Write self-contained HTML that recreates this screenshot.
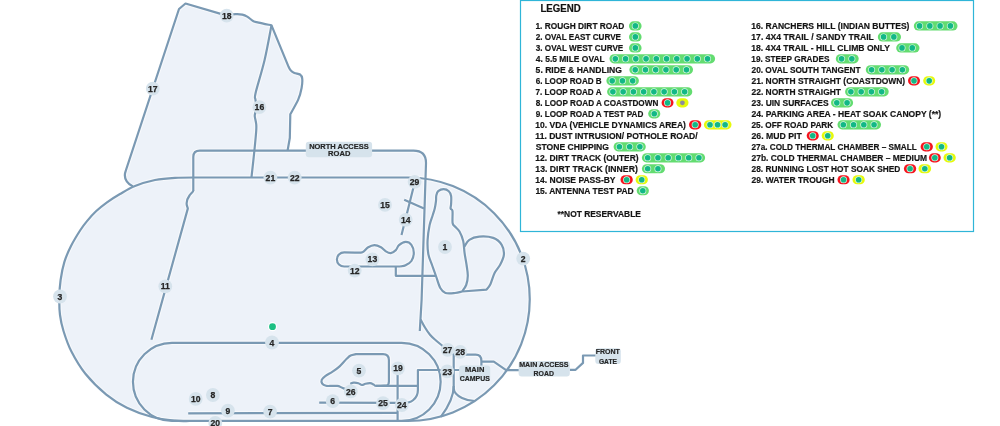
<!DOCTYPE html>
<html><head><meta charset="utf-8"><style>
html,body{margin:0;padding:0;background:#fff;width:1000px;height:426px;overflow:hidden;font-family:"Liberation Sans",sans-serif;}
.wrap{position:relative;width:1000px;height:426px;}
svg{will-change:transform;}
</style></head><body><div class="wrap">
<svg width="1000" height="426" viewBox="0 0 1000 426" style="position:absolute;left:0;top:0">
<g fill="#edf2f9" stroke="none"><path d="M408,177.5 L200,177.5 C195.83,177.55 182.50,177.38 175.00,177.80 C167.50,178.22 161.67,178.63 155.00,180.00 C148.33,181.37 140.83,183.67 135.00,186.00 C129.17,188.33 124.67,191.28 120.00,194.00 C115.33,196.72 111.00,199.42 107.00,202.30 C103.00,205.18 99.33,208.17 96.00,211.30 C92.67,214.43 89.60,217.98 87.00,221.10 C84.40,224.22 83.07,225.85 80.40,230.00 C77.73,234.15 73.67,240.68 71.00,246.00 C68.33,251.32 66.13,256.23 64.40,261.90 C62.67,267.57 61.45,273.98 60.60,280.00 C59.75,286.02 59.40,292.17 59.30,298.00 C59.20,303.83 59.30,309.50 60.00,315.00 C60.70,320.50 61.62,324.95 63.50,331.00 C65.38,337.05 67.65,344.17 71.30,351.30 C74.95,358.43 79.57,366.58 85.40,373.80 C91.23,381.02 99.38,388.95 106.30,394.60 C113.22,400.25 119.25,403.97 126.90,407.70 C134.55,411.43 144.18,414.83 152.20,417.00 C160.22,419.17 168.70,420.03 175.00,420.70 C181.30,421.37 185.83,420.95 190.00,421.00 C194.17,421.05 198.33,421.00 200.00,421.00 L408,421 A121.75,121.75 0 0 0 408,177.5 Z"/><path d="M133,186.5 C128.5,184.5 123.5,179.5 125.2,172.6 L126,170 L179,9 L185.5,3.5 L226.7,15.6 C228.20,15.35 233.10,14.27 235.70,14.10 C238.30,13.93 240.38,14.18 242.30,14.60 C244.22,15.02 245.33,15.50 247.20,16.60 C249.07,17.70 251.58,20.20 253.50,21.20 C255.42,22.20 255.70,21.92 258.70,22.60 C261.70,23.28 269.37,24.85 271.50,25.30 L288.6,66.8 C288.93,67.37 289.63,69.18 290.60,70.20 C291.57,71.22 292.83,72.18 294.40,72.90 C295.97,73.62 298.70,73.57 300.00,74.50 C301.30,75.43 301.93,76.25 302.20,78.50 C302.47,80.75 302.25,84.52 301.60,88.00 C300.95,91.48 300.18,95.03 298.30,99.40 C296.42,103.77 291.63,111.73 290.30,114.20 L289.8,138 L287.6,150.5 L193.3,150.5 L193.3,200 L120,200 Z"/><path d="M193.3,200 L193.3,157 Q193.3,150.5 199.8,150.5 L413.5,150.5 Q425.5,150.5 425.4,163 L424,200 Z"/></g>
<g fill="none" stroke="#ffffff" stroke-opacity="0.55" stroke-width="4.4" stroke-linejoin="round" stroke-linecap="butt">
<path d="M408,177.5 L200,177.5 C195.83,177.55 182.50,177.38 175.00,177.80 C167.50,178.22 161.67,178.63 155.00,180.00 C148.33,181.37 140.83,183.67 135.00,186.00 C129.17,188.33 124.67,191.28 120.00,194.00 C115.33,196.72 111.00,199.42 107.00,202.30 C103.00,205.18 99.33,208.17 96.00,211.30 C92.67,214.43 89.60,217.98 87.00,221.10 C84.40,224.22 83.07,225.85 80.40,230.00 C77.73,234.15 73.67,240.68 71.00,246.00 C68.33,251.32 66.13,256.23 64.40,261.90 C62.67,267.57 61.45,273.98 60.60,280.00 C59.75,286.02 59.40,292.17 59.30,298.00 C59.20,303.83 59.30,309.50 60.00,315.00 C60.70,320.50 61.62,324.95 63.50,331.00 C65.38,337.05 67.65,344.17 71.30,351.30 C74.95,358.43 79.57,366.58 85.40,373.80 C91.23,381.02 99.38,388.95 106.30,394.60 C113.22,400.25 119.25,403.97 126.90,407.70 C134.55,411.43 144.18,414.83 152.20,417.00 C160.22,419.17 168.70,420.03 175.00,420.70 C181.30,421.37 185.83,420.95 190.00,421.00 C194.17,421.05 198.33,421.00 200.00,421.00 L408,421 A121.75,121.75 0 0 0 408,177.5 Z"/>
<path d="M133,186.5 C128.5,184.5 123.5,179.5 125.2,172.6 L126,170 L179,9 L185.5,3.5 L226.7,15.6 C228.20,15.35 233.10,14.27 235.70,14.10 C238.30,13.93 240.38,14.18 242.30,14.60 C244.22,15.02 245.33,15.50 247.20,16.60 C249.07,17.70 251.58,20.20 253.50,21.20 C255.42,22.20 255.70,21.92 258.70,22.60 C261.70,23.28 269.37,24.85 271.50,25.30 L288.6,66.8 C288.93,67.37 289.63,69.18 290.60,70.20 C291.57,71.22 292.83,72.18 294.40,72.90 C295.97,73.62 298.70,73.57 300.00,74.50 C301.30,75.43 301.93,76.25 302.20,78.50 C302.47,80.75 302.25,84.52 301.60,88.00 C300.95,91.48 300.18,95.03 298.30,99.40 C296.42,103.77 291.63,111.73 290.30,114.20 L289.8,138 L287.6,150.5"/>
<path d="M193.3,191 L193.3,157 Q193.3,150.7 199.8,150.7 L413.5,150.7 Q426,150.7 426,163 L421.6,300 L419.8,331"/>
<path d="M271.50,25.30 C270.35,31.08 267.25,48.73 264.60,60.00 C261.95,71.27 257.13,86.33 255.60,92.90 C254.07,99.47 255.25,97.22 255.40,99.40 C255.55,101.58 256.53,103.73 256.50,106.00 C256.47,108.27 255.48,111.25 255.20,113.00 C254.92,114.75 254.63,114.67 254.80,116.50 C254.97,118.33 255.97,121.58 256.20,124.00 C256.43,126.42 256.50,126.58 256.20,131.00 C255.90,135.42 255.18,142.80 254.40,150.50 C253.62,158.20 251.98,172.75 251.50,177.20"/>
<path d="M193.3,190.5 C193.3,192 191,193.2 189.5,195.5 C187,199 186.4,203 186.8,205 C187,206.6 187.8,207.8 187.8,208.6 L151.4,339.8"/>
<path d="M414.6,183 L401.5,235"/>
<path d="M404.2,199.7 L424,208.6"/>
<path d="M400.7,266.4 L344.2,266.5 C340,266.5 336.9,263.3 336.9,259.4 C336.9,255.5 340,252.4 344.2,252.4 L354.7,252.6 C356.00,252.53 360.32,253.05 362.50,252.20 C364.68,251.35 365.82,248.68 367.80,247.50 C369.78,246.32 372.20,245.13 374.40,245.10 C376.60,245.07 379.08,246.25 381.00,247.30 C382.92,248.35 384.27,250.43 385.90,251.40 C387.53,252.37 389.15,253.32 390.80,253.10 C392.45,252.88 394.43,251.42 395.80,250.10 C397.17,248.78 397.37,246.57 399.00,245.20 C400.63,243.83 403.53,241.97 405.60,241.90 C407.67,241.83 410.03,242.98 411.40,244.80 C412.77,246.62 413.80,250.10 413.80,252.80 C413.80,255.50 412.77,258.93 411.40,261.00 C410.03,263.07 407.38,264.30 405.60,265.20 C403.82,266.10 401.52,266.20 400.70,266.40"/>
<path d="M395.8,266.5 L395.8,275.8 L435.5,275.8"/>
<path d="M462.00,291.50 C462.70,290.42 465.23,287.62 466.20,285.00 C467.17,282.38 467.75,279.22 467.80,275.80 C467.85,272.38 467.03,268.27 466.50,264.50 C465.97,260.73 465.15,257.12 464.60,253.20 C464.05,249.28 464.05,244.62 463.20,241.00 C462.35,237.38 460.87,233.92 459.50,231.50 C458.13,229.08 456.15,227.92 455.00,226.50 C453.85,225.08 453.02,225.58 452.60,223.00 C452.18,220.42 452.83,213.42 452.50,211.00 C452.17,208.58 450.83,209.67 450.60,208.50 C450.37,207.33 451.02,206.08 451.10,204.00 C451.18,201.92 451.48,198.13 451.10,196.00 C450.72,193.87 450.05,192.33 448.80,191.20 C447.55,190.07 445.37,189.20 443.60,189.20 C441.83,189.20 439.42,190.15 438.20,191.20 C436.98,192.25 436.67,193.87 436.30,195.50 C435.93,197.13 436.25,198.88 436.00,201.00 C435.75,203.12 435.35,205.83 434.80,208.20 C434.25,210.57 433.57,212.38 432.70,215.20 C431.83,218.02 430.45,220.97 429.60,225.10 C428.75,229.23 427.82,235.18 427.60,240.00 C427.38,244.82 427.53,249.75 428.30,254.00 C429.07,258.25 430.87,261.67 432.20,265.50 C433.53,269.33 434.95,273.25 436.30,277.00 C437.65,280.75 438.77,285.33 440.30,288.00 C441.83,290.67 443.05,292.17 445.50,293.00 C447.95,293.83 452.25,293.25 455.00,293.00 C457.75,292.75 460.83,291.75 462.00,291.50"/>
<path d="M464.40,246.50 C465.22,245.38 466.83,241.45 469.30,239.80 C471.77,238.15 475.22,236.92 479.20,236.60 C483.18,236.28 489.45,236.53 493.20,237.90 C496.95,239.27 499.92,242.02 501.70,244.80 C503.48,247.58 504.13,251.32 503.90,254.60 C503.67,257.88 501.85,261.43 500.30,264.50 C498.75,267.57 496.25,269.72 494.60,273.00 C492.95,276.28 491.75,281.43 490.40,284.20 C489.05,286.97 487.15,288.70 486.50,289.60 L462,291.5"/>
<path d="M172,342.8 L401.6,342.8 A39.05,39.05 0 0 1 401.6,420.9 L172,420.9 A39.05,39.05 0 0 1 172,342.8 Z"/>
<path d="M188.2,413.3 L397.6,412.8"/>
<path d="M319.2,402.6 L401.8,402.9 C406,403.2 409.8,403 413.3,400 C417,397 417.9,394 417.9,390 L417.9,370 L460,370"/>
<path d="M376,385.8 L417.9,385.8"/>
<path d="M397.6,368 L397.6,421"/>
<path d="M386.6,385.5 Q388.9,385 388.9,381.5 L388.9,360 Q388.9,354.1 383,354.1 L356,354.1 C355.10,354.35 352.15,354.82 350.60,355.60 C349.05,356.38 348.53,357.00 346.70,358.80 C344.87,360.60 341.95,364.25 339.60,366.40 C337.25,368.55 334.93,370.13 332.60,371.70 C330.27,373.27 327.40,374.48 325.60,375.80 C323.80,377.12 322.37,378.30 321.80,379.60 C321.23,380.90 321.50,382.57 322.20,383.60 C322.90,384.63 324.53,385.42 326.00,385.80 C327.47,386.18 330.17,385.88 331.00,385.90 L337.3,385.9 C339.5,386 341,387.5 344.3,388.6 L350.8,391.4"/>
<path d="M350.20,383.80 C350.78,383.60 352.33,382.70 353.70,382.60 C355.07,382.50 357.03,382.80 358.40,383.20 C359.77,383.60 360.73,384.90 361.90,385.00 C363.07,385.10 364.03,384.10 365.40,383.80 C366.77,383.50 368.73,383.10 370.10,383.20 C371.47,383.30 372.62,383.97 373.60,384.40 C374.58,384.83 373.83,385.60 376.00,385.80 C378.17,386.00 384.83,385.63 386.60,385.60"/>
<path d="M420.60,319.40 C421.33,320.75 423.43,324.93 425.00,327.50 C426.57,330.07 428.17,332.63 430.00,334.80 C431.83,336.97 433.97,338.70 436.00,340.50 C438.03,342.30 440.27,344.05 442.20,345.60 C444.13,347.15 446.70,349.10 447.60,349.80 L453.7,354.5 L453.7,388 C453.7,392 457,395.5 462,398 C466,400 471,401 475,401"/>
<path d="M453.7,386 C453.7,396 449,406 440.8,416.8"/>
<path d="M460.2,354.7 L475.6,354.7 C479.5,354.7 481.4,357.5 481.4,361 L481.4,366 M481.4,361.7 L493.8,361.7 L506.1,370.2 L520,370.2"/>
<path d="M569.8,369.8 L575.6,369.8 L583,362.9 L583,355.5 L596,355.5"/>
</g>
<g fill="none" stroke="#7a99b3" stroke-width="2.2" stroke-linejoin="round" stroke-linecap="butt">
<path d="M408,177.5 L200,177.5 C195.83,177.55 182.50,177.38 175.00,177.80 C167.50,178.22 161.67,178.63 155.00,180.00 C148.33,181.37 140.83,183.67 135.00,186.00 C129.17,188.33 124.67,191.28 120.00,194.00 C115.33,196.72 111.00,199.42 107.00,202.30 C103.00,205.18 99.33,208.17 96.00,211.30 C92.67,214.43 89.60,217.98 87.00,221.10 C84.40,224.22 83.07,225.85 80.40,230.00 C77.73,234.15 73.67,240.68 71.00,246.00 C68.33,251.32 66.13,256.23 64.40,261.90 C62.67,267.57 61.45,273.98 60.60,280.00 C59.75,286.02 59.40,292.17 59.30,298.00 C59.20,303.83 59.30,309.50 60.00,315.00 C60.70,320.50 61.62,324.95 63.50,331.00 C65.38,337.05 67.65,344.17 71.30,351.30 C74.95,358.43 79.57,366.58 85.40,373.80 C91.23,381.02 99.38,388.95 106.30,394.60 C113.22,400.25 119.25,403.97 126.90,407.70 C134.55,411.43 144.18,414.83 152.20,417.00 C160.22,419.17 168.70,420.03 175.00,420.70 C181.30,421.37 185.83,420.95 190.00,421.00 C194.17,421.05 198.33,421.00 200.00,421.00 L408,421 A121.75,121.75 0 0 0 408,177.5 Z"/>
<path d="M133,186.5 C128.5,184.5 123.5,179.5 125.2,172.6 L126,170 L179,9 L185.5,3.5 L226.7,15.6 C228.20,15.35 233.10,14.27 235.70,14.10 C238.30,13.93 240.38,14.18 242.30,14.60 C244.22,15.02 245.33,15.50 247.20,16.60 C249.07,17.70 251.58,20.20 253.50,21.20 C255.42,22.20 255.70,21.92 258.70,22.60 C261.70,23.28 269.37,24.85 271.50,25.30 L288.6,66.8 C288.93,67.37 289.63,69.18 290.60,70.20 C291.57,71.22 292.83,72.18 294.40,72.90 C295.97,73.62 298.70,73.57 300.00,74.50 C301.30,75.43 301.93,76.25 302.20,78.50 C302.47,80.75 302.25,84.52 301.60,88.00 C300.95,91.48 300.18,95.03 298.30,99.40 C296.42,103.77 291.63,111.73 290.30,114.20 L289.8,138 L287.6,150.5"/>
<path d="M193.3,191 L193.3,157 Q193.3,150.7 199.8,150.7 L413.5,150.7 Q426,150.7 426,163 L421.6,300 L419.8,331"/>
<path d="M271.50,25.30 C270.35,31.08 267.25,48.73 264.60,60.00 C261.95,71.27 257.13,86.33 255.60,92.90 C254.07,99.47 255.25,97.22 255.40,99.40 C255.55,101.58 256.53,103.73 256.50,106.00 C256.47,108.27 255.48,111.25 255.20,113.00 C254.92,114.75 254.63,114.67 254.80,116.50 C254.97,118.33 255.97,121.58 256.20,124.00 C256.43,126.42 256.50,126.58 256.20,131.00 C255.90,135.42 255.18,142.80 254.40,150.50 C253.62,158.20 251.98,172.75 251.50,177.20"/>
<path d="M193.3,190.5 C193.3,192 191,193.2 189.5,195.5 C187,199 186.4,203 186.8,205 C187,206.6 187.8,207.8 187.8,208.6 L151.4,339.8"/>
<path d="M414.6,183 L401.5,235"/>
<path d="M404.2,199.7 L424,208.6"/>
<path d="M400.7,266.4 L344.2,266.5 C340,266.5 336.9,263.3 336.9,259.4 C336.9,255.5 340,252.4 344.2,252.4 L354.7,252.6 C356.00,252.53 360.32,253.05 362.50,252.20 C364.68,251.35 365.82,248.68 367.80,247.50 C369.78,246.32 372.20,245.13 374.40,245.10 C376.60,245.07 379.08,246.25 381.00,247.30 C382.92,248.35 384.27,250.43 385.90,251.40 C387.53,252.37 389.15,253.32 390.80,253.10 C392.45,252.88 394.43,251.42 395.80,250.10 C397.17,248.78 397.37,246.57 399.00,245.20 C400.63,243.83 403.53,241.97 405.60,241.90 C407.67,241.83 410.03,242.98 411.40,244.80 C412.77,246.62 413.80,250.10 413.80,252.80 C413.80,255.50 412.77,258.93 411.40,261.00 C410.03,263.07 407.38,264.30 405.60,265.20 C403.82,266.10 401.52,266.20 400.70,266.40"/>
<path d="M395.8,266.5 L395.8,275.8 L435.5,275.8"/>
<path d="M462.00,291.50 C462.70,290.42 465.23,287.62 466.20,285.00 C467.17,282.38 467.75,279.22 467.80,275.80 C467.85,272.38 467.03,268.27 466.50,264.50 C465.97,260.73 465.15,257.12 464.60,253.20 C464.05,249.28 464.05,244.62 463.20,241.00 C462.35,237.38 460.87,233.92 459.50,231.50 C458.13,229.08 456.15,227.92 455.00,226.50 C453.85,225.08 453.02,225.58 452.60,223.00 C452.18,220.42 452.83,213.42 452.50,211.00 C452.17,208.58 450.83,209.67 450.60,208.50 C450.37,207.33 451.02,206.08 451.10,204.00 C451.18,201.92 451.48,198.13 451.10,196.00 C450.72,193.87 450.05,192.33 448.80,191.20 C447.55,190.07 445.37,189.20 443.60,189.20 C441.83,189.20 439.42,190.15 438.20,191.20 C436.98,192.25 436.67,193.87 436.30,195.50 C435.93,197.13 436.25,198.88 436.00,201.00 C435.75,203.12 435.35,205.83 434.80,208.20 C434.25,210.57 433.57,212.38 432.70,215.20 C431.83,218.02 430.45,220.97 429.60,225.10 C428.75,229.23 427.82,235.18 427.60,240.00 C427.38,244.82 427.53,249.75 428.30,254.00 C429.07,258.25 430.87,261.67 432.20,265.50 C433.53,269.33 434.95,273.25 436.30,277.00 C437.65,280.75 438.77,285.33 440.30,288.00 C441.83,290.67 443.05,292.17 445.50,293.00 C447.95,293.83 452.25,293.25 455.00,293.00 C457.75,292.75 460.83,291.75 462.00,291.50"/>
<path d="M464.40,246.50 C465.22,245.38 466.83,241.45 469.30,239.80 C471.77,238.15 475.22,236.92 479.20,236.60 C483.18,236.28 489.45,236.53 493.20,237.90 C496.95,239.27 499.92,242.02 501.70,244.80 C503.48,247.58 504.13,251.32 503.90,254.60 C503.67,257.88 501.85,261.43 500.30,264.50 C498.75,267.57 496.25,269.72 494.60,273.00 C492.95,276.28 491.75,281.43 490.40,284.20 C489.05,286.97 487.15,288.70 486.50,289.60 L462,291.5"/>
<path d="M172,342.8 L401.6,342.8 A39.05,39.05 0 0 1 401.6,420.9 L172,420.9 A39.05,39.05 0 0 1 172,342.8 Z"/>
<path d="M188.2,413.3 L397.6,412.8"/>
<path d="M319.2,402.6 L401.8,402.9 C406,403.2 409.8,403 413.3,400 C417,397 417.9,394 417.9,390 L417.9,370 L460,370"/>
<path d="M376,385.8 L417.9,385.8"/>
<path d="M397.6,368 L397.6,421"/>
<path d="M386.6,385.5 Q388.9,385 388.9,381.5 L388.9,360 Q388.9,354.1 383,354.1 L356,354.1 C355.10,354.35 352.15,354.82 350.60,355.60 C349.05,356.38 348.53,357.00 346.70,358.80 C344.87,360.60 341.95,364.25 339.60,366.40 C337.25,368.55 334.93,370.13 332.60,371.70 C330.27,373.27 327.40,374.48 325.60,375.80 C323.80,377.12 322.37,378.30 321.80,379.60 C321.23,380.90 321.50,382.57 322.20,383.60 C322.90,384.63 324.53,385.42 326.00,385.80 C327.47,386.18 330.17,385.88 331.00,385.90 L337.3,385.9 C339.5,386 341,387.5 344.3,388.6 L350.8,391.4"/>
<path d="M350.20,383.80 C350.78,383.60 352.33,382.70 353.70,382.60 C355.07,382.50 357.03,382.80 358.40,383.20 C359.77,383.60 360.73,384.90 361.90,385.00 C363.07,385.10 364.03,384.10 365.40,383.80 C366.77,383.50 368.73,383.10 370.10,383.20 C371.47,383.30 372.62,383.97 373.60,384.40 C374.58,384.83 373.83,385.60 376.00,385.80 C378.17,386.00 384.83,385.63 386.60,385.60"/>
<path d="M420.60,319.40 C421.33,320.75 423.43,324.93 425.00,327.50 C426.57,330.07 428.17,332.63 430.00,334.80 C431.83,336.97 433.97,338.70 436.00,340.50 C438.03,342.30 440.27,344.05 442.20,345.60 C444.13,347.15 446.70,349.10 447.60,349.80 L453.7,354.5 L453.7,388 C453.7,392 457,395.5 462,398 C466,400 471,401 475,401"/>
<path d="M453.7,386 C453.7,396 449,406 440.8,416.8"/>
<path d="M460.2,354.7 L475.6,354.7 C479.5,354.7 481.4,357.5 481.4,361 L481.4,366 M481.4,361.7 L493.8,361.7 L506.1,370.2 L520,370.2"/>
<path d="M569.8,369.8 L575.6,369.8 L583,362.9 L583,355.5 L596,355.5"/>
</g>
<circle cx="272.5" cy="326.7" r="4.6" fill="#ffffff"/><circle cx="272.5" cy="326.7" r="3.4" fill="#1dbf83"/>
<g fill="#d6e3ec">
<circle cx="226.7" cy="15.6" r="6.9"/>
<circle cx="152.8" cy="88.7" r="6.9"/>
<circle cx="259.4" cy="107.2" r="6.9"/>
<circle cx="270.4" cy="177.6" r="6.9"/>
<circle cx="294.7" cy="177.6" r="6.9"/>
<circle cx="414.6" cy="181.8" r="6.9"/>
<circle cx="385" cy="204.9" r="6.9"/>
<circle cx="405.7" cy="219.8" r="6.9"/>
<circle cx="445" cy="247" r="6.9"/>
<circle cx="523.2" cy="258.6" r="6.9"/>
<circle cx="60" cy="296.5" r="6.9"/>
<circle cx="372.4" cy="259.3" r="6.9"/>
<circle cx="354.7" cy="270.6" r="6.9"/>
<circle cx="165.3" cy="286.3" r="6.9"/>
<circle cx="272" cy="342.5" r="6.9"/>
<circle cx="359" cy="370.6" r="6.9"/>
<circle cx="398" cy="368.3" r="6.9"/>
<circle cx="350.8" cy="391.4" r="6.9"/>
<circle cx="332.7" cy="401.2" r="6.9"/>
<circle cx="383" cy="403.1" r="6.9"/>
<circle cx="401.8" cy="405" r="6.9"/>
<circle cx="447.2" cy="371.4" r="6.9"/>
<circle cx="447.6" cy="349.8" r="6.9"/>
<circle cx="460.2" cy="351.8" r="6.9"/>
<circle cx="195.7" cy="398.9" r="6.9"/>
<circle cx="212.9" cy="395" r="6.9"/>
<circle cx="227.9" cy="410.6" r="6.9"/>
<circle cx="270.1" cy="411.6" r="6.9"/>
<circle cx="215.3" cy="422.9" r="6.9"/>
</g>
<g font-family="&quot;Liberation Sans&quot;, sans-serif" font-weight="bold" font-size="8.6" fill="#262626" stroke="#262626" stroke-width="0.25" text-anchor="middle">
<text x="226.7" y="18.70">18</text>
<text x="152.8" y="91.80">17</text>
<text x="259.4" y="110.30">16</text>
<text x="270.4" y="180.70">21</text>
<text x="294.7" y="180.70">22</text>
<text x="414.6" y="184.90">29</text>
<text x="385" y="208.00">15</text>
<text x="405.7" y="222.90">14</text>
<text x="445" y="250.10">1</text>
<text x="523.2" y="261.70">2</text>
<text x="60" y="299.60">3</text>
<text x="372.4" y="262.40">13</text>
<text x="354.7" y="273.70">12</text>
<text x="165.3" y="289.40">11</text>
<text x="272" y="345.60">4</text>
<text x="359" y="373.70">5</text>
<text x="398" y="371.40">19</text>
<text x="350.8" y="394.50">26</text>
<text x="332.7" y="404.30">6</text>
<text x="383" y="406.20">25</text>
<text x="401.8" y="408.10">24</text>
<text x="447.2" y="374.50">23</text>
<text x="447.6" y="352.90">27</text>
<text x="460.2" y="354.90">28</text>
<text x="195.7" y="402.00">10</text>
<text x="212.9" y="398.10">8</text>
<text x="227.9" y="413.70">9</text>
<text x="270.1" y="414.70">7</text>
<text x="215.3" y="426.00">20</text>
</g>
<rect x="305.8" y="141.8" width="66.30" height="15.40" rx="3" fill="#d6e3ec"/><text x="338.9" y="148.8" text-anchor="middle" font-family="&quot;Liberation Sans&quot;, sans-serif" font-weight="bold" font-size="7.9" fill="#262626" stroke="#262626" stroke-width="0.2" textLength="59.5" lengthAdjust="spacingAndGlyphs">NORTH ACCESS</text><text x="339.2" y="155.9" text-anchor="middle" font-family="&quot;Liberation Sans&quot;, sans-serif" font-weight="bold" font-size="7.9" fill="#262626" stroke="#262626" stroke-width="0.2" textLength="22.3" lengthAdjust="spacingAndGlyphs">ROAD</text>
<rect x="459.1" y="365.6" width="31.10" height="15.50" rx="3" fill="#d6e3ec"/><text x="474.7" y="371.6" text-anchor="middle" font-family="&quot;Liberation Sans&quot;, sans-serif" font-weight="bold" font-size="7.9" fill="#262626" stroke="#262626" stroke-width="0.2" textLength="19.3" lengthAdjust="spacingAndGlyphs">MAIN</text><text x="474.8" y="380.6" text-anchor="middle" font-family="&quot;Liberation Sans&quot;, sans-serif" font-weight="bold" font-size="7.9" fill="#262626" stroke="#262626" stroke-width="0.2" textLength="30.2" lengthAdjust="spacingAndGlyphs">CAMPUS</text>
<rect x="518.6" y="361.1" width="51.20" height="15.50" rx="3" fill="#d6e3ec"/><text x="543.9" y="367.1" text-anchor="middle" font-family="&quot;Liberation Sans&quot;, sans-serif" font-weight="bold" font-size="7.9" fill="#262626" stroke="#262626" stroke-width="0.2" textLength="49.4" lengthAdjust="spacingAndGlyphs">MAIN ACCESS</text><text x="543.8" y="376.1" text-anchor="middle" font-family="&quot;Liberation Sans&quot;, sans-serif" font-weight="bold" font-size="7.9" fill="#262626" stroke="#262626" stroke-width="0.2" textLength="20.4" lengthAdjust="spacingAndGlyphs">ROAD</text>
<rect x="595.3" y="348.3" width="25.50" height="15.70" rx="3" fill="#d6e3ec"/><text x="607.8" y="354.4" text-anchor="middle" font-family="&quot;Liberation Sans&quot;, sans-serif" font-weight="bold" font-size="7.9" fill="#262626" stroke="#262626" stroke-width="0.2" textLength="24.2" lengthAdjust="spacingAndGlyphs">FRONT</text><text x="607.9" y="363.6" text-anchor="middle" font-family="&quot;Liberation Sans&quot;, sans-serif" font-weight="bold" font-size="7.9" fill="#262626" stroke="#262626" stroke-width="0.2" textLength="18" lengthAdjust="spacingAndGlyphs">GATE</text>
</svg>
<svg width="1000" height="426" viewBox="0 0 1000 426" style="position:absolute;left:0;top:0">
<rect x="520.5" y="0.5" width="453" height="231" fill="#ffffff" stroke="#2fb5d8" stroke-width="1.2"/>
<text x="540.42" y="12" font-family="&quot;Liberation Sans&quot;, sans-serif" font-weight="bold" font-size="10" fill="#111" stroke="#111" stroke-width="0.2" textLength="40.29" lengthAdjust="spacingAndGlyphs">LEGEND</text>
<text x="535.40" y="28.90" font-family="&quot;Liberation Sans&quot;, sans-serif" font-weight="bold" font-size="8.4" fill="#141414" stroke="#141414" stroke-width="0.18" textLength="88.97" lengthAdjust="spacingAndGlyphs">1. ROUGH DIRT ROAD</text>
<rect x="629.00" y="21.30" width="12.60" height="9.2" rx="4.6" fill="#63dc70"/><circle cx="635.30" cy="25.90" r="3.5" fill="#d8f6e4"/><circle cx="635.30" cy="25.90" r="2.8" fill="#12b886"/>
<text x="535.66" y="39.89" font-family="&quot;Liberation Sans&quot;, sans-serif" font-weight="bold" font-size="8.4" fill="#141414" stroke="#141414" stroke-width="0.18" textLength="85.34" lengthAdjust="spacingAndGlyphs">2. OVAL EAST CURVE</text>
<rect x="629.00" y="32.29" width="12.60" height="9.2" rx="4.6" fill="#63dc70"/><circle cx="635.30" cy="36.89" r="3.5" fill="#d8f6e4"/><circle cx="635.30" cy="36.89" r="2.8" fill="#12b886"/>
<text x="535.74" y="50.88" font-family="&quot;Liberation Sans&quot;, sans-serif" font-weight="bold" font-size="8.4" fill="#141414" stroke="#141414" stroke-width="0.18" textLength="87.56" lengthAdjust="spacingAndGlyphs">3. OVAL WEST CURVE</text>
<rect x="629.00" y="43.28" width="12.60" height="9.2" rx="4.6" fill="#63dc70"/><circle cx="635.30" cy="47.88" r="3.5" fill="#d8f6e4"/><circle cx="635.30" cy="47.88" r="2.8" fill="#12b886"/>
<text x="535.82" y="61.87" font-family="&quot;Liberation Sans&quot;, sans-serif" font-weight="bold" font-size="8.4" fill="#141414" stroke="#141414" stroke-width="0.18" textLength="68.86" lengthAdjust="spacingAndGlyphs">4. 5.5 MILE OVAL</text>
<rect x="609.50" y="54.27" width="105.60" height="9.2" rx="4.6" fill="#63dc70"/><circle cx="615.30" cy="58.87" r="3.5" fill="#d8f6e4"/><circle cx="615.30" cy="58.87" r="2.8" fill="#12b886"/><circle cx="625.55" cy="58.87" r="3.5" fill="#d8f6e4"/><circle cx="625.55" cy="58.87" r="2.8" fill="#12b886"/><circle cx="635.80" cy="58.87" r="3.5" fill="#d8f6e4"/><circle cx="635.80" cy="58.87" r="2.8" fill="#12b886"/><circle cx="646.05" cy="58.87" r="3.5" fill="#d8f6e4"/><circle cx="646.05" cy="58.87" r="2.8" fill="#12b886"/><circle cx="656.30" cy="58.87" r="3.5" fill="#d8f6e4"/><circle cx="656.30" cy="58.87" r="2.8" fill="#12b886"/><circle cx="666.55" cy="58.87" r="3.5" fill="#d8f6e4"/><circle cx="666.55" cy="58.87" r="2.8" fill="#12b886"/><circle cx="676.80" cy="58.87" r="3.5" fill="#d8f6e4"/><circle cx="676.80" cy="58.87" r="2.8" fill="#12b886"/><circle cx="687.05" cy="58.87" r="3.5" fill="#d8f6e4"/><circle cx="687.05" cy="58.87" r="2.8" fill="#12b886"/><circle cx="697.30" cy="58.87" r="3.5" fill="#d8f6e4"/><circle cx="697.30" cy="58.87" r="2.8" fill="#12b886"/><circle cx="707.55" cy="58.87" r="3.5" fill="#d8f6e4"/><circle cx="707.55" cy="58.87" r="2.8" fill="#12b886"/>
<text x="535.64" y="72.86" font-family="&quot;Liberation Sans&quot;, sans-serif" font-weight="bold" font-size="8.4" fill="#141414" stroke="#141414" stroke-width="0.18" textLength="86.35" lengthAdjust="spacingAndGlyphs">5. RIDE &amp; HANDLING</text>
<rect x="629.40" y="65.26" width="63.60" height="9.2" rx="4.6" fill="#63dc70"/><circle cx="635.20" cy="69.86" r="3.5" fill="#d8f6e4"/><circle cx="635.20" cy="69.86" r="2.8" fill="#12b886"/><circle cx="645.45" cy="69.86" r="3.5" fill="#d8f6e4"/><circle cx="645.45" cy="69.86" r="2.8" fill="#12b886"/><circle cx="655.70" cy="69.86" r="3.5" fill="#d8f6e4"/><circle cx="655.70" cy="69.86" r="2.8" fill="#12b886"/><circle cx="665.95" cy="69.86" r="3.5" fill="#d8f6e4"/><circle cx="665.95" cy="69.86" r="2.8" fill="#12b886"/><circle cx="676.20" cy="69.86" r="3.5" fill="#d8f6e4"/><circle cx="676.20" cy="69.86" r="2.8" fill="#12b886"/><circle cx="686.45" cy="69.86" r="3.5" fill="#d8f6e4"/><circle cx="686.45" cy="69.86" r="2.8" fill="#12b886"/>
<text x="535.66" y="83.85" font-family="&quot;Liberation Sans&quot;, sans-serif" font-weight="bold" font-size="8.4" fill="#141414" stroke="#141414" stroke-width="0.18" textLength="66.08" lengthAdjust="spacingAndGlyphs">6. LOOP ROAD B</text>
<rect x="606.40" y="76.25" width="32.50" height="9.2" rx="4.6" fill="#63dc70"/><circle cx="612.20" cy="80.85" r="3.5" fill="#d8f6e4"/><circle cx="612.20" cy="80.85" r="2.8" fill="#12b886"/><circle cx="622.45" cy="80.85" r="3.5" fill="#d8f6e4"/><circle cx="622.45" cy="80.85" r="2.8" fill="#12b886"/><circle cx="632.70" cy="80.85" r="3.5" fill="#d8f6e4"/><circle cx="632.70" cy="80.85" r="2.8" fill="#12b886"/>
<text x="535.58" y="94.84" font-family="&quot;Liberation Sans&quot;, sans-serif" font-weight="bold" font-size="8.4" fill="#141414" stroke="#141414" stroke-width="0.18" textLength="66.00" lengthAdjust="spacingAndGlyphs">7. LOOP ROAD A</text>
<rect x="607.10" y="87.24" width="85.20" height="9.2" rx="4.6" fill="#63dc70"/><circle cx="612.90" cy="91.84" r="3.5" fill="#d8f6e4"/><circle cx="612.90" cy="91.84" r="2.8" fill="#12b886"/><circle cx="623.15" cy="91.84" r="3.5" fill="#d8f6e4"/><circle cx="623.15" cy="91.84" r="2.8" fill="#12b886"/><circle cx="633.40" cy="91.84" r="3.5" fill="#d8f6e4"/><circle cx="633.40" cy="91.84" r="2.8" fill="#12b886"/><circle cx="643.65" cy="91.84" r="3.5" fill="#d8f6e4"/><circle cx="643.65" cy="91.84" r="2.8" fill="#12b886"/><circle cx="653.90" cy="91.84" r="3.5" fill="#d8f6e4"/><circle cx="653.90" cy="91.84" r="2.8" fill="#12b886"/><circle cx="664.15" cy="91.84" r="3.5" fill="#d8f6e4"/><circle cx="664.15" cy="91.84" r="2.8" fill="#12b886"/><circle cx="674.40" cy="91.84" r="3.5" fill="#d8f6e4"/><circle cx="674.40" cy="91.84" r="2.8" fill="#12b886"/><circle cx="684.65" cy="91.84" r="3.5" fill="#d8f6e4"/><circle cx="684.65" cy="91.84" r="2.8" fill="#12b886"/>
<text x="535.66" y="105.83" font-family="&quot;Liberation Sans&quot;, sans-serif" font-weight="bold" font-size="8.4" fill="#141414" stroke="#141414" stroke-width="0.18" textLength="122.65" lengthAdjust="spacingAndGlyphs">8. LOOP ROAD A COASTDOWN</text>
<rect x="661.60" y="98.23" width="11.90" height="9.2" rx="4.6" fill="#f5141e"/><circle cx="667.55" cy="102.83" r="3.5" fill="#d8f6e4"/><circle cx="667.55" cy="102.83" r="2.8" fill="#12b886"/>
<rect x="676.30" y="98.23" width="12.20" height="9.2" rx="4.6" fill="#e6fa0a"/><circle cx="682.40" cy="102.83" r="2.4" fill="#8b8c9e"/>
<text x="535.66" y="116.82" font-family="&quot;Liberation Sans&quot;, sans-serif" font-weight="bold" font-size="8.4" fill="#141414" stroke="#141414" stroke-width="0.18" textLength="107.70" lengthAdjust="spacingAndGlyphs">9. LOOP ROAD A TEST PAD</text>
<rect x="648.20" y="109.22" width="12.10" height="9.2" rx="4.6" fill="#63dc70"/><circle cx="654.25" cy="113.82" r="3.5" fill="#d8f6e4"/><circle cx="654.25" cy="113.82" r="2.8" fill="#12b886"/>
<text x="535.39" y="127.81" font-family="&quot;Liberation Sans&quot;, sans-serif" font-weight="bold" font-size="8.4" fill="#141414" stroke="#141414" stroke-width="0.18" textLength="150.57" lengthAdjust="spacingAndGlyphs">10. VDA (VEHICLE DYNAMICS AREA)</text>
<rect x="689.00" y="120.21" width="12.30" height="9.2" rx="4.6" fill="#f5141e"/><circle cx="695.15" cy="124.81" r="3.5" fill="#d8f6e4"/><circle cx="695.15" cy="124.81" r="2.8" fill="#12b886"/>
<rect x="703.90" y="120.21" width="27.60" height="9.2" rx="4.6" fill="#e6fa0a"/><circle cx="710.00" cy="124.81" r="3.5" fill="#d8f6e4"/><circle cx="710.00" cy="124.81" r="2.8" fill="#12b886"/><circle cx="717.55" cy="124.81" r="3.5" fill="#d8f6e4"/><circle cx="717.55" cy="124.81" r="2.8" fill="#12b886"/><circle cx="725.10" cy="124.81" r="3.5" fill="#d8f6e4"/><circle cx="725.10" cy="124.81" r="2.8" fill="#12b886"/>
<text x="535.39" y="138.80" font-family="&quot;Liberation Sans&quot;, sans-serif" font-weight="bold" font-size="8.4" fill="#141414" stroke="#141414" stroke-width="0.18" textLength="162.28" lengthAdjust="spacingAndGlyphs">11. DUST INTRUSION/ POTHOLE ROAD/</text>
<text x="535.73" y="149.79" font-family="&quot;Liberation Sans&quot;, sans-serif" font-weight="bold" font-size="8.4" fill="#141414" stroke="#141414" stroke-width="0.18" textLength="73.27" lengthAdjust="spacingAndGlyphs">STONE CHIPPING</text>
<rect x="613.60" y="142.19" width="32.20" height="9.2" rx="4.6" fill="#63dc70"/><circle cx="619.40" cy="146.79" r="3.5" fill="#d8f6e4"/><circle cx="619.40" cy="146.79" r="2.8" fill="#12b886"/><circle cx="629.65" cy="146.79" r="3.5" fill="#d8f6e4"/><circle cx="629.65" cy="146.79" r="2.8" fill="#12b886"/><circle cx="639.90" cy="146.79" r="3.5" fill="#d8f6e4"/><circle cx="639.90" cy="146.79" r="2.8" fill="#12b886"/>
<text x="535.39" y="160.78" font-family="&quot;Liberation Sans&quot;, sans-serif" font-weight="bold" font-size="8.4" fill="#141414" stroke="#141414" stroke-width="0.18" textLength="103.27" lengthAdjust="spacingAndGlyphs">12. DIRT TRACK (OUTER)</text>
<rect x="641.90" y="153.18" width="63.20" height="9.2" rx="4.6" fill="#63dc70"/><circle cx="647.70" cy="157.78" r="3.5" fill="#d8f6e4"/><circle cx="647.70" cy="157.78" r="2.8" fill="#12b886"/><circle cx="657.95" cy="157.78" r="3.5" fill="#d8f6e4"/><circle cx="657.95" cy="157.78" r="2.8" fill="#12b886"/><circle cx="668.20" cy="157.78" r="3.5" fill="#d8f6e4"/><circle cx="668.20" cy="157.78" r="2.8" fill="#12b886"/><circle cx="678.45" cy="157.78" r="3.5" fill="#d8f6e4"/><circle cx="678.45" cy="157.78" r="2.8" fill="#12b886"/><circle cx="688.70" cy="157.78" r="3.5" fill="#d8f6e4"/><circle cx="688.70" cy="157.78" r="2.8" fill="#12b886"/><circle cx="698.95" cy="157.78" r="3.5" fill="#d8f6e4"/><circle cx="698.95" cy="157.78" r="2.8" fill="#12b886"/>
<text x="535.38" y="171.77" font-family="&quot;Liberation Sans&quot;, sans-serif" font-weight="bold" font-size="8.4" fill="#141414" stroke="#141414" stroke-width="0.18" textLength="102.39" lengthAdjust="spacingAndGlyphs">13. DIRT TRACK (INNER)</text>
<rect x="641.90" y="164.17" width="23.10" height="9.2" rx="4.6" fill="#63dc70"/><circle cx="647.70" cy="168.77" r="3.5" fill="#d8f6e4"/><circle cx="647.70" cy="168.77" r="2.8" fill="#12b886"/><circle cx="657.95" cy="168.77" r="3.5" fill="#d8f6e4"/><circle cx="657.95" cy="168.77" r="2.8" fill="#12b886"/>
<text x="535.39" y="182.76" font-family="&quot;Liberation Sans&quot;, sans-serif" font-weight="bold" font-size="8.4" fill="#141414" stroke="#141414" stroke-width="0.18" textLength="80.17" lengthAdjust="spacingAndGlyphs">14. NOISE PASS-BY</text>
<rect x="620.50" y="175.16" width="12.30" height="9.2" rx="4.6" fill="#f5141e"/><circle cx="626.65" cy="179.76" r="3.5" fill="#d8f6e4"/><circle cx="626.65" cy="179.76" r="2.8" fill="#12b886"/>
<rect x="635.60" y="175.16" width="12.30" height="9.2" rx="4.6" fill="#e6fa0a"/><circle cx="641.75" cy="179.76" r="3.5" fill="#d8f6e4"/><circle cx="641.75" cy="179.76" r="2.8" fill="#12b886"/>
<text x="535.40" y="193.75" font-family="&quot;Liberation Sans&quot;, sans-serif" font-weight="bold" font-size="8.4" fill="#141414" stroke="#141414" stroke-width="0.18" textLength="98.27" lengthAdjust="spacingAndGlyphs">15. ANTENNA TEST PAD</text>
<rect x="636.70" y="186.15" width="12.20" height="9.2" rx="4.6" fill="#63dc70"/><circle cx="642.80" cy="190.75" r="3.5" fill="#d8f6e4"/><circle cx="642.80" cy="190.75" r="2.8" fill="#12b886"/>
<text x="751.29" y="28.90" font-family="&quot;Liberation Sans&quot;, sans-serif" font-weight="bold" font-size="8.4" fill="#141414" stroke="#141414" stroke-width="0.18" textLength="158.18" lengthAdjust="spacingAndGlyphs">16. RANCHERS HILL (INDIAN BUTTES)</text>
<rect x="913.80" y="21.30" width="43.70" height="9.2" rx="4.6" fill="#63dc70"/><circle cx="919.60" cy="25.90" r="3.5" fill="#d8f6e4"/><circle cx="919.60" cy="25.90" r="2.8" fill="#12b886"/><circle cx="929.85" cy="25.90" r="3.5" fill="#d8f6e4"/><circle cx="929.85" cy="25.90" r="2.8" fill="#12b886"/><circle cx="940.10" cy="25.90" r="3.5" fill="#d8f6e4"/><circle cx="940.10" cy="25.90" r="2.8" fill="#12b886"/><circle cx="950.35" cy="25.90" r="3.5" fill="#d8f6e4"/><circle cx="950.35" cy="25.90" r="2.8" fill="#12b886"/>
<text x="751.28" y="39.89" font-family="&quot;Liberation Sans&quot;, sans-serif" font-weight="bold" font-size="8.4" fill="#141414" stroke="#141414" stroke-width="0.18" textLength="122.60" lengthAdjust="spacingAndGlyphs">17. 4X4 TRAIL / SANDY TRAIL</text>
<rect x="877.80" y="32.29" width="23.20" height="9.2" rx="4.6" fill="#63dc70"/><circle cx="883.60" cy="36.89" r="3.5" fill="#d8f6e4"/><circle cx="883.60" cy="36.89" r="2.8" fill="#12b886"/><circle cx="893.85" cy="36.89" r="3.5" fill="#d8f6e4"/><circle cx="893.85" cy="36.89" r="2.8" fill="#12b886"/>
<text x="751.29" y="50.88" font-family="&quot;Liberation Sans&quot;, sans-serif" font-weight="bold" font-size="8.4" fill="#141414" stroke="#141414" stroke-width="0.18" textLength="138.67" lengthAdjust="spacingAndGlyphs">18. 4X4 TRAIL - HILL CLIMB ONLY</text>
<rect x="896.20" y="43.28" width="23.30" height="9.2" rx="4.6" fill="#63dc70"/><circle cx="902.00" cy="47.88" r="3.5" fill="#d8f6e4"/><circle cx="902.00" cy="47.88" r="2.8" fill="#12b886"/><circle cx="912.25" cy="47.88" r="3.5" fill="#d8f6e4"/><circle cx="912.25" cy="47.88" r="2.8" fill="#12b886"/>
<text x="751.31" y="61.87" font-family="&quot;Liberation Sans&quot;, sans-serif" font-weight="bold" font-size="8.4" fill="#141414" stroke="#141414" stroke-width="0.18" textLength="78.20" lengthAdjust="spacingAndGlyphs">19. STEEP GRADES</text>
<rect x="835.80" y="54.27" width="22.90" height="9.2" rx="4.6" fill="#63dc70"/><circle cx="841.60" cy="58.87" r="3.5" fill="#d8f6e4"/><circle cx="841.60" cy="58.87" r="2.8" fill="#12b886"/><circle cx="851.85" cy="58.87" r="3.5" fill="#d8f6e4"/><circle cx="851.85" cy="58.87" r="2.8" fill="#12b886"/>
<text x="751.55" y="72.86" font-family="&quot;Liberation Sans&quot;, sans-serif" font-weight="bold" font-size="8.4" fill="#141414" stroke="#141414" stroke-width="0.18" textLength="109.06" lengthAdjust="spacingAndGlyphs">20. OVAL SOUTH TANGENT</text>
<rect x="865.80" y="65.26" width="43.40" height="9.2" rx="4.6" fill="#63dc70"/><circle cx="871.60" cy="69.86" r="3.5" fill="#d8f6e4"/><circle cx="871.60" cy="69.86" r="2.8" fill="#12b886"/><circle cx="881.85" cy="69.86" r="3.5" fill="#d8f6e4"/><circle cx="881.85" cy="69.86" r="2.8" fill="#12b886"/><circle cx="892.10" cy="69.86" r="3.5" fill="#d8f6e4"/><circle cx="892.10" cy="69.86" r="2.8" fill="#12b886"/><circle cx="902.35" cy="69.86" r="3.5" fill="#d8f6e4"/><circle cx="902.35" cy="69.86" r="2.8" fill="#12b886"/>
<text x="751.55" y="83.85" font-family="&quot;Liberation Sans&quot;, sans-serif" font-weight="bold" font-size="8.4" fill="#141414" stroke="#141414" stroke-width="0.18" textLength="153.62" lengthAdjust="spacingAndGlyphs">21. NORTH STRAIGHT (COASTDOWN)</text>
<rect x="908.00" y="76.25" width="12.00" height="9.2" rx="4.6" fill="#f5141e"/><circle cx="914.00" cy="80.85" r="3.5" fill="#d8f6e4"/><circle cx="914.00" cy="80.85" r="2.8" fill="#12b886"/>
<rect x="923.20" y="76.25" width="12.00" height="9.2" rx="4.6" fill="#e6fa0a"/><circle cx="929.20" cy="80.85" r="3.5" fill="#d8f6e4"/><circle cx="929.20" cy="80.85" r="2.8" fill="#12b886"/>
<text x="751.55" y="94.84" font-family="&quot;Liberation Sans&quot;, sans-serif" font-weight="bold" font-size="8.4" fill="#141414" stroke="#141414" stroke-width="0.18" textLength="89.36" lengthAdjust="spacingAndGlyphs">22. NORTH STRAIGHT</text>
<rect x="845.10" y="87.24" width="43.60" height="9.2" rx="4.6" fill="#63dc70"/><circle cx="850.90" cy="91.84" r="3.5" fill="#d8f6e4"/><circle cx="850.90" cy="91.84" r="2.8" fill="#12b886"/><circle cx="861.15" cy="91.84" r="3.5" fill="#d8f6e4"/><circle cx="861.15" cy="91.84" r="2.8" fill="#12b886"/><circle cx="871.40" cy="91.84" r="3.5" fill="#d8f6e4"/><circle cx="871.40" cy="91.84" r="2.8" fill="#12b886"/><circle cx="881.65" cy="91.84" r="3.5" fill="#d8f6e4"/><circle cx="881.65" cy="91.84" r="2.8" fill="#12b886"/>
<text x="751.55" y="105.83" font-family="&quot;Liberation Sans&quot;, sans-serif" font-weight="bold" font-size="8.4" fill="#141414" stroke="#141414" stroke-width="0.18" textLength="76.97" lengthAdjust="spacingAndGlyphs">23. UIN SURFACES</text>
<rect x="831.00" y="98.23" width="22.10" height="9.2" rx="4.6" fill="#63dc70"/><circle cx="836.80" cy="102.83" r="3.5" fill="#d8f6e4"/><circle cx="836.80" cy="102.83" r="2.8" fill="#12b886"/><circle cx="847.05" cy="102.83" r="3.5" fill="#d8f6e4"/><circle cx="847.05" cy="102.83" r="2.8" fill="#12b886"/>
<text x="751.54" y="116.82" font-family="&quot;Liberation Sans&quot;, sans-serif" font-weight="bold" font-size="8.4" fill="#141414" stroke="#141414" stroke-width="0.18" textLength="189.62" lengthAdjust="spacingAndGlyphs">24. PARKING AREA - HEAT SOAK CANOPY (**)</text>
<text x="751.55" y="127.81" font-family="&quot;Liberation Sans&quot;, sans-serif" font-weight="bold" font-size="8.4" fill="#141414" stroke="#141414" stroke-width="0.18" textLength="81.66" lengthAdjust="spacingAndGlyphs">25. OFF ROAD PARK</text>
<rect x="837.50" y="120.21" width="43.50" height="9.2" rx="4.6" fill="#63dc70"/><circle cx="843.30" cy="124.81" r="3.5" fill="#d8f6e4"/><circle cx="843.30" cy="124.81" r="2.8" fill="#12b886"/><circle cx="853.55" cy="124.81" r="3.5" fill="#d8f6e4"/><circle cx="853.55" cy="124.81" r="2.8" fill="#12b886"/><circle cx="863.80" cy="124.81" r="3.5" fill="#d8f6e4"/><circle cx="863.80" cy="124.81" r="2.8" fill="#12b886"/><circle cx="874.05" cy="124.81" r="3.5" fill="#d8f6e4"/><circle cx="874.05" cy="124.81" r="2.8" fill="#12b886"/>
<text x="751.54" y="138.80" font-family="&quot;Liberation Sans&quot;, sans-serif" font-weight="bold" font-size="8.4" fill="#141414" stroke="#141414" stroke-width="0.18" textLength="50.27" lengthAdjust="spacingAndGlyphs">26. MUD PIT</text>
<rect x="806.70" y="131.20" width="12.10" height="9.2" rx="4.6" fill="#f5141e"/><circle cx="812.75" cy="135.80" r="3.5" fill="#d8f6e4"/><circle cx="812.75" cy="135.80" r="2.8" fill="#12b886"/>
<rect x="821.70" y="131.20" width="12.10" height="9.2" rx="4.6" fill="#e6fa0a"/><circle cx="827.75" cy="135.80" r="3.5" fill="#d8f6e4"/><circle cx="827.75" cy="135.80" r="2.8" fill="#12b886"/>
<text x="751.55" y="149.79" font-family="&quot;Liberation Sans&quot;, sans-serif" font-weight="bold" font-size="8.4" fill="#141414" stroke="#141414" stroke-width="0.18" textLength="165.22" lengthAdjust="spacingAndGlyphs">27a. COLD THERMAL CHAMBER – SMALL</text>
<rect x="920.60" y="142.19" width="12.30" height="9.2" rx="4.6" fill="#f5141e"/><circle cx="926.75" cy="146.79" r="3.5" fill="#d8f6e4"/><circle cx="926.75" cy="146.79" r="2.8" fill="#12b886"/>
<rect x="935.50" y="142.19" width="12.00" height="9.2" rx="4.6" fill="#e6fa0a"/><circle cx="941.50" cy="146.79" r="3.5" fill="#d8f6e4"/><circle cx="941.50" cy="146.79" r="2.8" fill="#12b886"/>
<text x="751.55" y="160.78" font-family="&quot;Liberation Sans&quot;, sans-serif" font-weight="bold" font-size="8.4" fill="#141414" stroke="#141414" stroke-width="0.18" textLength="175.48" lengthAdjust="spacingAndGlyphs">27b. COLD THERMAL CHAMBER – MEDIUM</text>
<rect x="928.90" y="153.18" width="11.90" height="9.2" rx="4.6" fill="#f5141e"/><circle cx="934.85" cy="157.78" r="3.5" fill="#d8f6e4"/><circle cx="934.85" cy="157.78" r="2.8" fill="#12b886"/>
<rect x="943.50" y="153.18" width="12.30" height="9.2" rx="4.6" fill="#e6fa0a"/><circle cx="949.65" cy="157.78" r="3.5" fill="#d8f6e4"/><circle cx="949.65" cy="157.78" r="2.8" fill="#12b886"/>
<text x="751.55" y="171.77" font-family="&quot;Liberation Sans&quot;, sans-serif" font-weight="bold" font-size="8.4" fill="#141414" stroke="#141414" stroke-width="0.18" textLength="148.82" lengthAdjust="spacingAndGlyphs">28. RUNNING LOST HOT SOAK SHED</text>
<rect x="903.90" y="164.17" width="12.30" height="9.2" rx="4.6" fill="#f5141e"/><circle cx="910.05" cy="168.77" r="3.5" fill="#d8f6e4"/><circle cx="910.05" cy="168.77" r="2.8" fill="#12b886"/>
<rect x="918.50" y="164.17" width="12.60" height="9.2" rx="4.6" fill="#e6fa0a"/><circle cx="924.80" cy="168.77" r="3.5" fill="#d8f6e4"/><circle cx="924.80" cy="168.77" r="2.8" fill="#12b886"/>
<text x="751.55" y="182.76" font-family="&quot;Liberation Sans&quot;, sans-serif" font-weight="bold" font-size="8.4" fill="#141414" stroke="#141414" stroke-width="0.18" textLength="83.08" lengthAdjust="spacingAndGlyphs">29. WATER TROUGH</text>
<rect x="837.50" y="175.16" width="12.10" height="9.2" rx="4.6" fill="#f5141e"/><circle cx="843.55" cy="179.76" r="3.5" fill="#d8f6e4"/><circle cx="843.55" cy="179.76" r="2.8" fill="#12b886"/>
<rect x="852.50" y="175.16" width="12.30" height="9.2" rx="4.6" fill="#e6fa0a"/><circle cx="858.65" cy="179.76" r="3.5" fill="#d8f6e4"/><circle cx="858.65" cy="179.76" r="2.8" fill="#12b886"/>
<text x="557.5" y="216.9" font-family="&quot;Liberation Sans&quot;, sans-serif" font-weight="bold" font-size="8.4" fill="#141414" stroke="#141414" stroke-width="0.18" textLength="83.41" lengthAdjust="spacingAndGlyphs">**NOT RESERVABLE</text>
</svg>
</div></body></html>
